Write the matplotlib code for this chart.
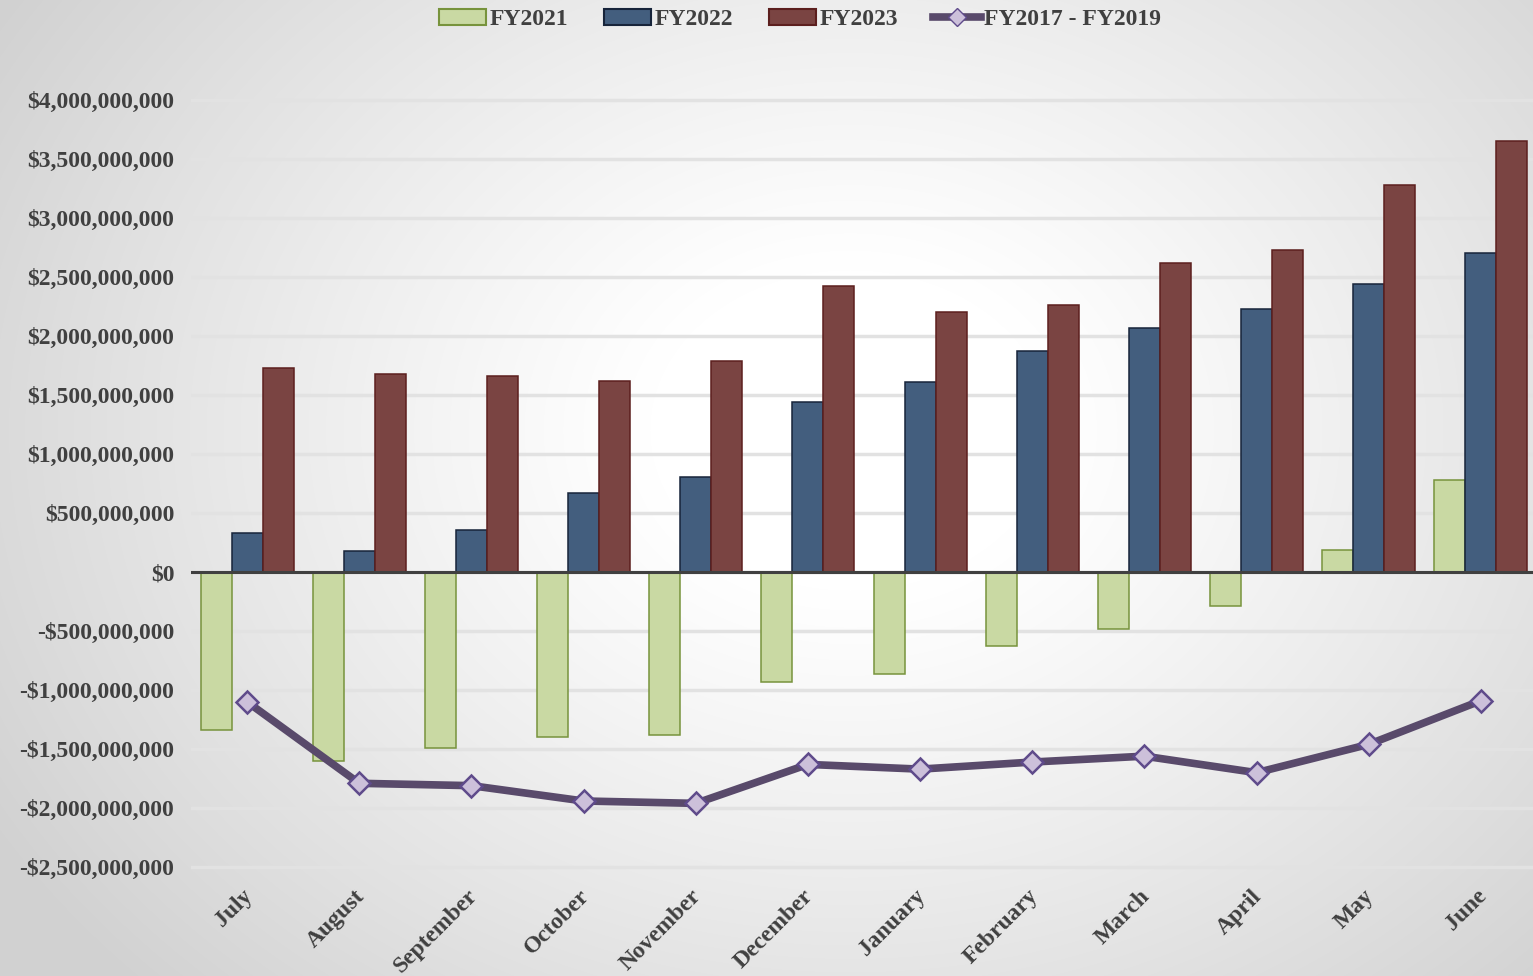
import numpy as np
import matplotlib
matplotlib.use("Agg")
import matplotlib.pyplot as plt
import matplotlib.transforms as mtransforms
from matplotlib.ticker import FuncFormatter
from matplotlib.lines import Line2D
from matplotlib.patches import Patch

# =========================
# DATA
# =========================
months = ["July", "August", "September", "October", "November", "December",
          "January", "February", "March", "April", "May", "June"]

fy2021 = [-1.34e9, -1.60e9, -1.49e9, -1.40e9, -1.38e9, -0.93e9,
          -0.86e9, -0.63e9, -0.48e9, -0.29e9, 0.19e9, 0.78e9]
fy2022 = [0.33e9, 0.175e9, 0.36e9, 0.67e9, 0.805e9, 1.44e9,
          1.61e9, 1.875e9, 2.07e9, 2.23e9, 2.44e9, 2.70e9]
fy2023 = [1.73e9, 1.675e9, 1.66e9, 1.62e9, 1.79e9, 2.42e9,
          2.20e9, 2.26e9, 2.62e9, 2.73e9, 3.28e9, 3.65e9]
fy2017_2019 = [-1.10e9, -1.79e9, -1.81e9, -1.94e9, -1.96e9, -1.63e9,
               -1.67e9, -1.61e9, -1.56e9, -1.70e9, -1.46e9, -1.09e9]

y_ticks = np.arange(-2.5e9, 4.01e9, 0.5e9)

# =========================
# STYLE
# =========================
plt.rcParams["font.family"] = ["Liberation Serif", "DejaVu Serif"]
plt.rcParams["font.weight"] = "bold"
txt = "#404040"

fig = plt.figure(figsize=(15.33, 9.76), dpi=100)

# radial gradient background (white centre, grey edges)
bg = fig.add_axes([0, 0, 1, 1], zorder=-10)
h, w = 976, 1533
yy, xx = np.mgrid[0:h, 0:w]
d = np.sqrt(((xx - 850) / 1000.0) ** 2 + ((yy - 430) / 800.0) ** 2)
val = 1.0 - 0.18 * np.clip((d - 0.2) / 0.8, 0, 1) ** 1.1
bg.imshow(np.dstack([val, val, val]), extent=[0, 1, 0, 1], aspect="auto")
bg.axis("off")

left = 191 / 1533
right = 1537 / 1533
top = 1 - 94 / 976
bottom = 1 - 873 / 976
ax = fig.add_axes([left, bottom, right - left, top - bottom])
ax.set_facecolor("none")

x = np.arange(len(months))
bw = 0.276

ax.bar(x - bw, fy2021, bw, color="#c9d9a3", edgecolor="#77933c", linewidth=1.1, zorder=3)
ax.bar(x, fy2022, bw, color="#435e7e", edgecolor="#17243a", linewidth=1.1, zorder=3)
ax.bar(x + bw, fy2023, bw, color="#7a4442", edgecolor="#5c1f1e", linewidth=1.1, zorder=3)
ax.plot(x, fy2017_2019, color="#594a6b", linewidth=5.5, marker="D", markersize=11,
        markerfacecolor="#ccc0da", markeredgecolor="#5f4b8b", markeredgewidth=1.8, zorder=5)

ax.axhline(0, color="#404040", linewidth=2.2, zorder=4)

ax.set_xlim(-0.5, 11.5)
ax.set_ylim(-2.55e9, 4.05e9)
ax.set_yticks(y_ticks)
ax.yaxis.grid(True, color="#e2e2e2", linewidth=2.5, zorder=0)
ax.set_axisbelow(True)


def money(v, pos):
    if abs(v) < 1:
        return "$0"
    s = "${:,.0f}".format(abs(v))
    return "-" + s if v < 0 else s


ax.yaxis.set_major_formatter(FuncFormatter(money))
ax.tick_params(axis="y", length=0, pad=12, labelsize=17, labelcolor=txt)
ax.tick_params(axis="x", length=0, pad=9, labelsize=17, labelcolor=txt)
ax.set_xticks(x)
ax.set_xticklabels(months, rotation=45, ha="right", va="top", rotation_mode="anchor")
shift = mtransforms.ScaledTranslation(-5 / 100, 0, fig.dpi_scale_trans)
for lab in ax.get_xticklabels():
    lab.set_transform(lab.get_transform() + shift)
for lab in ax.get_xticklabels() + ax.get_yticklabels():
    lab.set_fontweight("bold")

for s in ax.spines.values():
    s.set_visible(False)

# =========================
# LEGEND
# =========================
handles = [
    Patch(facecolor="#c9d9a3", edgecolor="#77933c", linewidth=1.5),
    Patch(facecolor="#435e7e", edgecolor="#17243a", linewidth=1.5),
    Patch(facecolor="#7a4442", edgecolor="#5c1f1e", linewidth=1.5),
    Line2D([0], [0], color="#594a6b", linewidth=5.5, marker="D", markersize=9,
           markerfacecolor="#ccc0da", markeredgecolor="#5f4b8b"),
]
fig.legend(handles, ["FY2021", "FY2022", "FY2023", "FY2017 - FY2019"],
           loc="upper center", bbox_to_anchor=(0.522, 1.013), ncol=4, frameon=False,
           prop={"size": 17, "weight": "bold"}, labelcolor=txt,
           handlelength=2.0, handleheight=0.7, handletextpad=0.15, columnspacing=1.5)

fig.savefig("out.png", dpi=100)
